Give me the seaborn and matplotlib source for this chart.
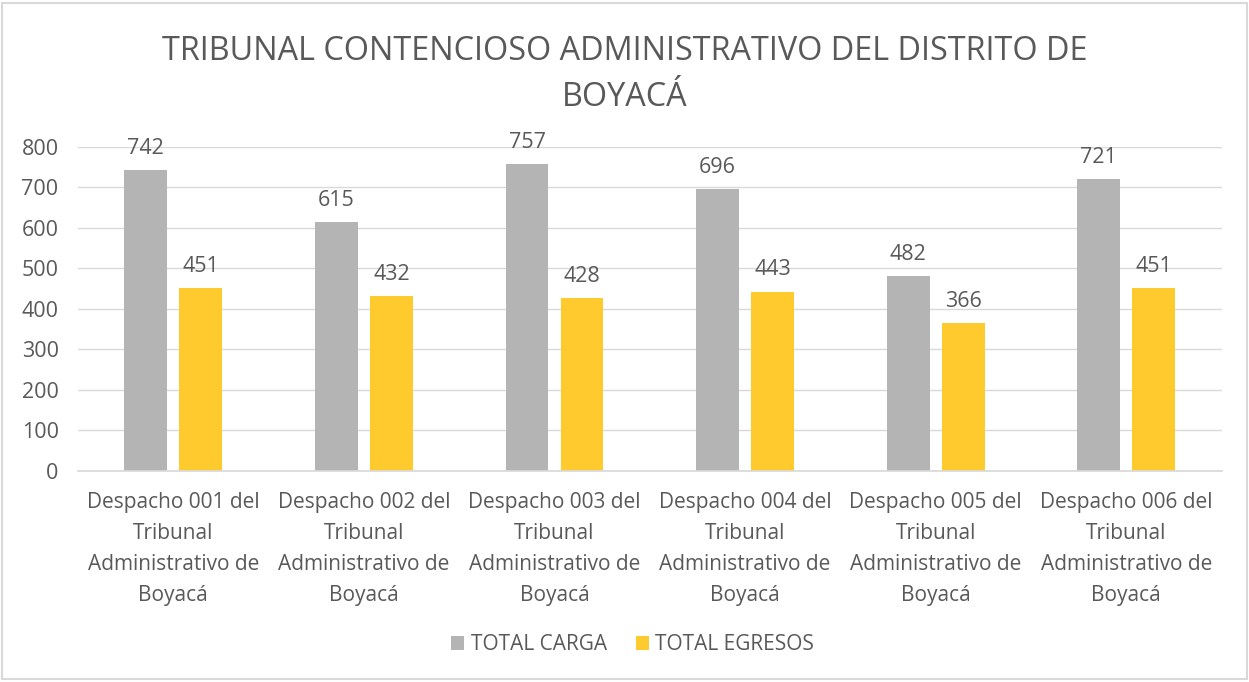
import matplotlib
matplotlib.use("Agg")
import matplotlib.pyplot as plt
import seaborn as sns
import pandas as pd
from matplotlib.patches import Rectangle

categories = ["Despacho 001 del\nTribunal\nAdministrativo de\nBoyacá",
              "Despacho 002 del\nTribunal\nAdministrativo de\nBoyacá",
              "Despacho 003 del\nTribunal\nAdministrativo de\nBoyacá",
              "Despacho 004 del\nTribunal\nAdministrativo de\nBoyacá",
              "Despacho 005 del\nTribunal\nAdministrativo de\nBoyacá",
              "Despacho 006 del\nTribunal\nAdministrativo de\nBoyacá"]
series_names = ["TOTAL CARGA", "TOTAL EGRESOS"]
total_carga = [742, 615, 757, 696, 482, 721]
total_egresos = [451, 432, 428, 443, 366, 451]
colors = ["#B4B4B4", "#FFCA2E"]
title = "TRIBUNAL CONTENCIOSO ADMINISTRATIVO DEL DISTRITO DE\nBOYACÁ"

df = pd.DataFrame({
    "cat": categories * 2,
    "serie": [series_names[0]] * 6 + [series_names[1]] * 6,
    "valor": total_carga + total_egresos,
})

sns.set_theme(style="white")
plt.rcParams['font.family'] = ['Open Sans', 'DejaVu Sans']
txt = "#595959"

fig = plt.figure(figsize=(12.49, 6.82), dpi=100)
ax = fig.add_axes([0.0625, 0.3094, 0.9155, 0.4751])

sns.barplot(data=df, x="cat", y="valor", hue="serie", palette=colors,
            width=0.577, gap=0.22, ax=ax, legend=True, saturation=1,
            linewidth=0, edgecolor="none")

ax.set_ylim(0, 800)
ax.set_xlim(-0.5, 5.5)
ax.set_yticks(range(0, 801, 100))
ax.yaxis.grid(True, color="#D9D9D9", linewidth=1)
ax.set_axisbelow(True)
for s in ["top", "right", "left"]:
    ax.spines[s].set_visible(False)
ax.spines["bottom"].set_color("#D9D9D9")
ax.set_xlabel("")
ax.set_ylabel("")
ax.tick_params(axis="y", labelsize=15.5, colors=txt, length=0, pad=14)
ax.tick_params(axis="x", labelsize=15, colors=txt, length=0, pad=15)
for lab in ax.get_xticklabels():
    lab.set_linespacing(1.62)
    lab.set_ha("center")

for cont in ax.containers:
    ax.bar_label(cont, labels=[f"{int(v)}" for v in cont.datavalues],
                 padding=8, fontsize=15.5, color=txt)

leg = ax.legend(loc="center", bbox_to_anchor=(0.485, -0.537), ncol=2,
                frameon=False, fontsize=15, handlelength=0.62, handleheight=0.62,
                handletextpad=0.3, columnspacing=1.4)
for t in leg.get_texts():
    t.set_color(txt)

fig.text(0.5, 0.891, title, ha="center", va="center", fontsize=23.3,
         color=txt, linespacing=1.52)

fig.patches.append(Rectangle((0.002, 0.004), 0.996, 0.992, transform=fig.transFigure,
                             fill=False, edgecolor="#D9D9D9", linewidth=1.5))

fig.savefig("out.png", dpi=100, facecolor="white")
